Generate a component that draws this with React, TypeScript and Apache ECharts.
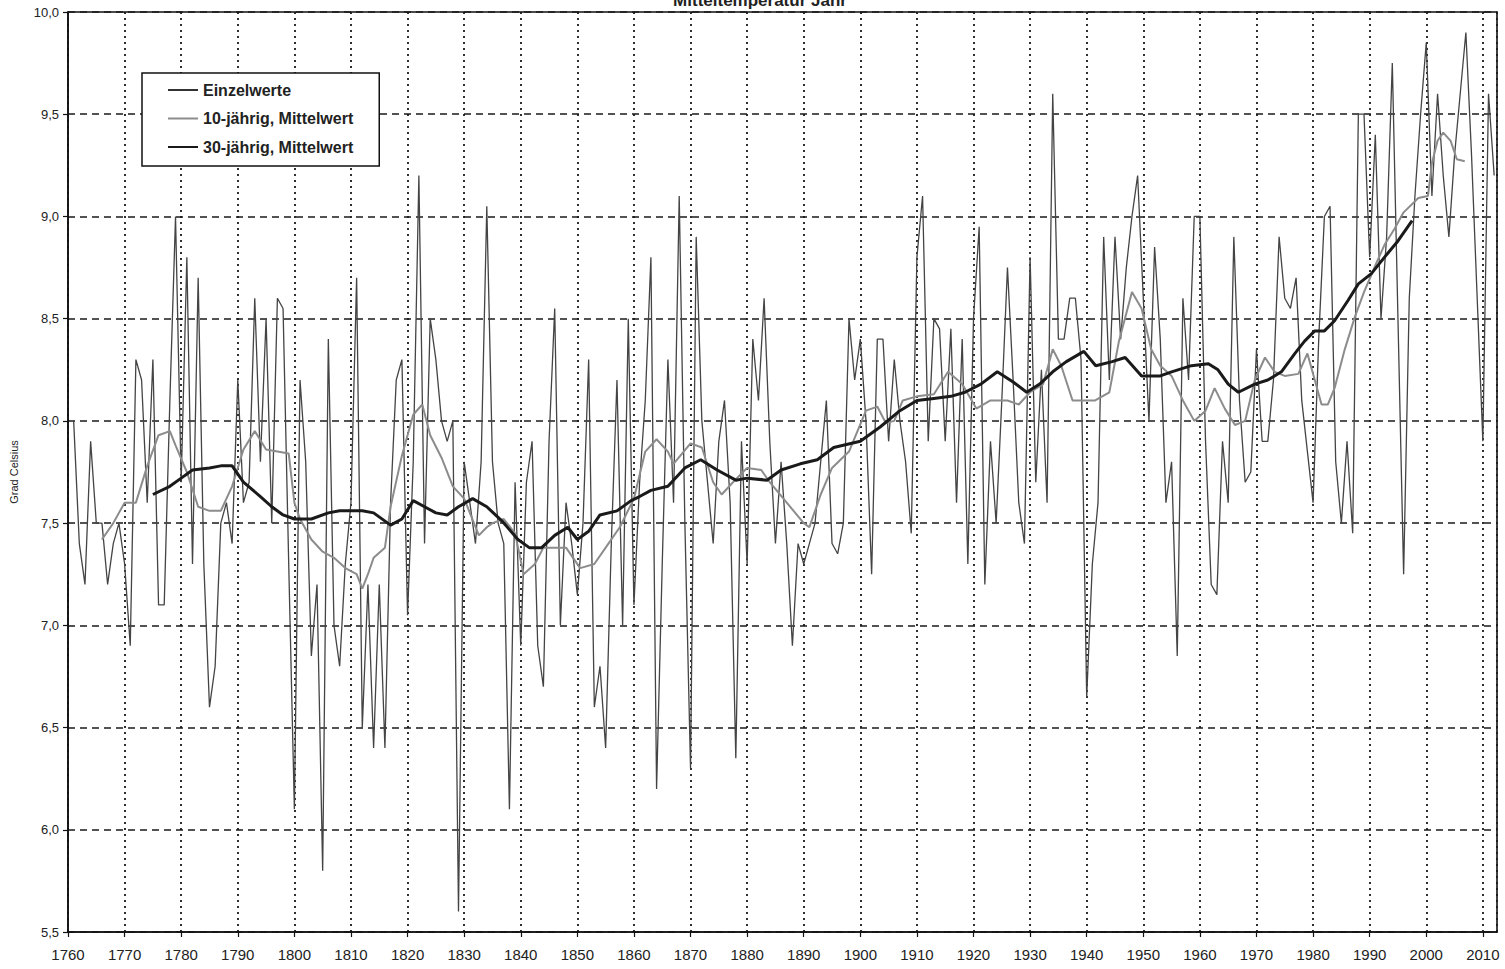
import React, { useEffect, useRef } from "react";
import * as echarts from "echarts";

const TITLE = "Mitteltemperatur Jahr";
const Y_NAME = "Grad Celsius";
const SERIES_NAMES = ["Einzelwerte", "10-jährig, Mittelwert", "30-jährig, Mittelwert"];

const FIRST_YEAR = 1761;
// Annual mean values (Einzelwerte), 1761 .. 2012
const annualValues = [
  8.0, 7.4, 7.2, 7.9, 7.5, 7.5, 7.2, 7.4, 7.5, 7.3, // 1761-1770
  6.9, 8.3, 8.2, 7.6, 8.3, 7.1, 7.1, 8.1, 9.0, 7.7, // 1771-1780
  8.8, 7.3, 8.7, 7.3, 6.6, 6.8, 7.5, 7.6, 7.4, 8.2, // 1781-1790
  7.6, 7.7, 8.6, 7.8, 8.5, 7.5, 8.6, 8.55, 7.3, 6.1, // 1791-1800
  8.2, 7.8, 6.85, 7.2, 5.8, 8.4, 7.0, 6.8, 7.3, 7.6, // 1801-1810
  8.7, 6.5, 7.2, 6.4, 7.2, 6.4, 7.6, 8.2, 8.3, 7.05, // 1811-1820
  7.8, 9.2, 7.4, 8.5, 8.3, 8.0, 7.9, 8.0, 5.6, 7.8, // 1821-1830
  7.6, 7.4, 7.8, 9.05, 7.8, 7.5, 7.4, 6.1, 7.7, 6.9, // 1831-1840
  7.7, 7.9, 6.9, 6.7, 7.9, 8.55, 7.0, 7.6, 7.4, 7.15, // 1841-1850
  7.5, 8.3, 6.6, 6.8, 6.4, 7.4, 8.2, 7.0, 8.5, 7.1, // 1851-1860
  7.7, 8.1, 8.8, 6.2, 7.3, 8.3, 7.6, 9.1, 7.5, 6.3, // 1861-1870
  8.9, 8.0, 7.7, 7.4, 7.9, 8.1, 7.6, 6.35, 7.9, 7.3, // 1871-1880
  8.4, 8.1, 8.6, 7.9, 7.4, 7.8, 7.4, 6.9, 7.4, 7.3, // 1881-1890
  7.4, 7.5, 7.8, 8.1, 7.4, 7.35, 7.5, 8.5, 8.2, 8.4, // 1891-1900
  8.0, 7.25, 8.4, 8.4, 7.9, 8.3, 8.0, 7.8, 7.45, 8.8, // 1901-1910
  9.1, 7.9, 8.5, 8.45, 7.9, 8.45, 7.6, 8.4, 7.3, 8.5, // 1911-1920
  8.95, 7.2, 7.9, 7.5, 8.1, 8.75, 8.2, 7.6, 7.4, 8.8, // 1921-1930
  7.7, 8.25, 7.6, 9.6, 8.4, 8.4, 8.6, 8.6, 8.3, 6.65, // 1931-1940
  7.3, 7.6, 8.9, 8.2, 8.9, 8.4, 8.75, 9.0, 9.2, 8.6, // 1941-1950
  8.0, 8.85, 8.4, 7.6, 7.8, 6.85, 8.6, 8.2, 9.0, 9.0, // 1951-1960
  7.9, 7.2, 7.15, 7.9, 7.6, 8.9, 8.1, 7.7, 7.75, 8.35, // 1961-1970
  7.9, 7.9, 8.2, 8.9, 8.6, 8.55, 8.7, 8.1, 7.85, 7.6, // 1971-1980
  8.4, 9.0, 9.05, 7.8, 7.5, 7.9, 7.45, 9.5, 9.5, 8.8, // 1981-1990
  9.4, 8.5, 8.9, 9.75, 8.5, 7.25, 8.6, 9.1, 9.5, 9.85, // 1991-2000
  9.1, 9.6, 9.2, 8.9, 9.3, 9.6, 9.9, 9.3, 8.6, 7.9, // 2001-2010
  9.6, 9.2, // 2011-2012
];

// 10-year running mean: [year, value]
const tenYearMean: [number, number][] = [
  [1766, 7.42], [1768, 7.5], [1770, 7.6], [1772, 7.6], [1774, 7.78], [1776, 7.93],
  [1778, 7.95], [1779, 7.88], [1781, 7.75], [1783, 7.58], [1785, 7.56], [1787, 7.56],
  [1789, 7.68], [1791, 7.86], [1793, 7.95], [1795, 7.86], [1797, 7.85], [1799, 7.84],
  [1800, 7.6], [1801, 7.52], [1803, 7.42], [1805, 7.36], [1807, 7.33], [1809, 7.28],
  [1811, 7.25], [1812, 7.18], [1813, 7.25], [1814, 7.33], [1816, 7.38], [1817, 7.58],
  [1819, 7.83], [1821, 8.03], [1822.6, 8.08], [1824, 7.93], [1826, 7.82], [1828, 7.68],
  [1830, 7.62], [1832.6, 7.44], [1834, 7.48], [1835, 7.5], [1837, 7.52], [1839, 7.45],
  [1840.5, 7.25], [1842.5, 7.3], [1844, 7.38], [1846, 7.38], [1848, 7.38], [1850.5, 7.28],
  [1853, 7.3], [1855, 7.38], [1857.5, 7.48], [1860, 7.62], [1862, 7.85], [1864, 7.91],
  [1866, 7.85], [1867, 7.79], [1870, 7.89], [1872, 7.87], [1874, 7.7], [1875.5, 7.64],
  [1877.5, 7.7], [1880, 7.77], [1882.5, 7.76], [1884, 7.7], [1887, 7.6], [1890, 7.5],
  [1891, 7.48], [1893, 7.64], [1895, 7.77], [1898, 7.85], [1901, 8.05], [1903, 8.07],
  [1904.5, 7.99], [1906, 8.0], [1907.5, 8.1], [1910, 8.12], [1913, 8.13], [1915.5, 8.24],
  [1918, 8.18], [1920.5, 8.06], [1923, 8.1], [1926, 8.1], [1928, 8.08], [1930, 8.14],
  [1932.3, 8.18], [1934, 8.35], [1935.5, 8.27], [1937.5, 8.1], [1939.5, 8.1], [1941.5, 8.1],
  [1944, 8.14], [1945.7, 8.39], [1948, 8.63], [1949.7, 8.55], [1951.4, 8.35], [1953, 8.27],
  [1955, 8.22], [1957, 8.1], [1959, 8.0], [1961, 8.05], [1962.6, 8.16], [1964.4, 8.06],
  [1966.2, 7.98], [1968, 8.0], [1969.7, 8.2], [1971.5, 8.31], [1973.2, 8.24], [1975, 8.22],
  [1977.4, 8.23], [1979, 8.33], [1980.3, 8.2], [1981.5, 8.08], [1982.6, 8.08], [1983.8, 8.16],
  [1985.6, 8.35], [1987.4, 8.51], [1989, 8.63], [1991, 8.76], [1992.6, 8.86], [1994.4, 8.94],
  [1996, 9.02], [1998.6, 9.09], [2000.3, 9.1], [2001, 9.26], [2002, 9.37], [2003, 9.41],
  [2004.3, 9.37], [2005.4, 9.28], [2006.8, 9.27],
];

// 30-year running mean: [year, value]
const thirtyYearMean: [number, number][] = [
  [1775, 7.64], [1778, 7.68], [1780, 7.72], [1782, 7.76], [1785, 7.77], [1787, 7.78],
  [1789, 7.78], [1791, 7.7], [1794, 7.63], [1796, 7.58], [1798, 7.54], [1800, 7.52],
  [1803, 7.52], [1806, 7.55], [1808, 7.56], [1810, 7.56], [1812, 7.56], [1814, 7.55],
  [1817, 7.49], [1819, 7.52], [1821, 7.61], [1823, 7.58], [1825, 7.55], [1827, 7.54],
  [1829, 7.58], [1831.5, 7.62], [1834, 7.58], [1836.7, 7.51], [1839.5, 7.42], [1841.5, 7.38],
  [1843.7, 7.38], [1846, 7.44], [1848.3, 7.48], [1850, 7.42], [1852, 7.46], [1854, 7.54],
  [1857, 7.56], [1859.5, 7.61], [1861, 7.63], [1863, 7.66], [1866, 7.68], [1869, 7.77],
  [1871.8, 7.81], [1874.7, 7.76], [1878, 7.71], [1880, 7.72], [1883.5, 7.71], [1886, 7.76],
  [1889.4, 7.79], [1892.4, 7.81], [1895.3, 7.87], [1900, 7.9], [1903.5, 7.97], [1907, 8.05],
  [1910, 8.1], [1913, 8.11], [1916, 8.12], [1918.5, 8.14], [1921.3, 8.18], [1924.2, 8.24],
  [1927, 8.19], [1929.4, 8.14], [1931.7, 8.18], [1934, 8.24], [1936.4, 8.29], [1939.5, 8.34],
  [1941.6, 8.27], [1944.5, 8.29], [1946.8, 8.31], [1949.7, 8.22], [1953, 8.22], [1955, 8.24],
  [1958.5, 8.27], [1961.5, 8.28], [1963.2, 8.25], [1965, 8.18], [1966.8, 8.14], [1969.7, 8.18],
  [1972, 8.2], [1974.4, 8.24], [1976.8, 8.33], [1978.5, 8.39], [1980.3, 8.44], [1982, 8.44],
  [1983.8, 8.49], [1986.2, 8.59], [1988, 8.67], [1990.3, 8.72], [1992.6, 8.8], [1995, 8.88],
  [1997.5, 8.98],
];

const X_MIN = 1760;
const X_MAX = 2012.5;
const X_STEP = 10;
const Y_MIN = 5.5;
const Y_MAX = 10;
const Y_STEP = 0.5;

export default function App() {
  const ref = useRef<HTMLDivElement>(null);

  useEffect(() => {
    if (!ref.current) return;
    const chart = echarts.init(ref.current, undefined, { renderer: "svg" });
    const annualPairs = annualValues.map((v, i) => [FIRST_YEAR + i, v]);
    const font = '"Liberation Sans", Arial, sans-serif';

    chart.setOption({
      animation: false,
      backgroundColor: "#ffffff",
      grid: {
        left: 64,
        right: 8,
        top: 12,
        bottom: 37,
        show: true,
        borderColor: "#111",
        borderWidth: 1.6,
        backgroundColor: "transparent",
      },
      graphic: [
        {
          type: "text",
          x: 760,
          y: 9,
          z: 100,
          style: {
            text: TITLE,
            textAlign: "center",
            textVerticalAlign: "bottom",
            font: 'bold 17px "Liberation Sans", Arial, sans-serif',
            fill: "#222",
          },
        },
      ],
      legend: {
        orient: "vertical",
        left: 142,
        top: 73,
        backgroundColor: "#ffffff",
        borderColor: "#111",
        borderWidth: 1.5,
        padding: [9, 26, 11, 26],
        itemWidth: 30,
        itemHeight: 2,
        itemGap: 12.5,
        icon: "rect",
        textStyle: {
          fontFamily: font,
          fontWeight: "bold",
          fontSize: 16,
          color: "#222",
        },
        data: SERIES_NAMES,
      },
      xAxis: {
        type: "value",
        min: X_MIN,
        max: X_MAX,
        interval: X_STEP,
        axisLine: { show: true, lineStyle: { color: "#111", width: 1.6 } },
        axisTick: { show: true, length: 5, lineStyle: { color: "#111", width: 1.2 } },
        axisLabel: {
          margin: 15,
          color: "#222",
          fontFamily: '"Liberation Sans Narrow", "Liberation Sans", Arial, sans-serif',
          fontSize: 15,
          showMaxLabel: false,
          formatter: (v: number) => (v % 10 === 0 ? String(v) : ""),
        },
        splitLine: {
          show: true,
          lineStyle: { color: "#1a1a1a", width: 1.8, type: [2, 4] },
        },
      },
      yAxis: {
        type: "value",
        min: Y_MIN,
        max: Y_MAX,
        interval: Y_STEP,
        name: Y_NAME,
        nameLocation: "middle",
        nameRotate: 90,
        nameGap: 49,
        nameTextStyle: { fontFamily: font, fontSize: 11, color: "#222" },
        axisLine: { show: true, lineStyle: { color: "#111", width: 1.6 } },
        axisTick: { show: true, length: 5, lineStyle: { color: "#111", width: 1.2 } },
        axisLabel: {
          margin: 9,
          color: "#222",
          fontFamily: font,
          fontSize: 13,
          formatter: (v: number) => v.toFixed(1).replace(".", ","),
        },
        splitLine: {
          show: true,
          lineStyle: { color: "#1a1a1a", width: 1.6, type: [7, 5] },
        },
      },
      series: [
        {
          name: SERIES_NAMES[0],
          type: "line",
          data: annualPairs,
          showSymbol: false,
          color: "#333333",
          lineStyle: { color: "#444444", width: 1.3 },
          z: 2,
        },
        {
          name: SERIES_NAMES[1],
          type: "line",
          data: tenYearMean,
          showSymbol: false,
          color: "#8c8c8c",
          lineStyle: { color: "#8c8c8c", width: 2 },
          z: 3,
        },
        {
          name: SERIES_NAMES[2],
          type: "line",
          data: thirtyYearMean,
          showSymbol: false,
          color: "#1a1a1a",
          lineStyle: { color: "#1a1a1a", width: 3 },
          z: 4,
        },
      ],
    });

    return () => chart.dispose();
  }, []);

  return (
    <div
      ref={ref}
      style={{ position: "absolute", left: 0, top: 0, width: 1505, height: 969 }}
    />
  );
}
